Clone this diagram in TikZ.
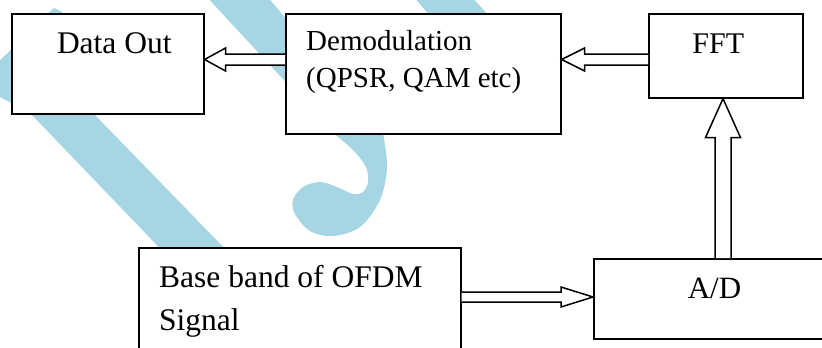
\documentclass[tikz,border=0pt]{standalone}
\usepackage{fontspec}
\setmainfont{Liberation Serif}
\usetikzlibrary{calc}
\definecolor{wmblue}{RGB}{166,213,227}
% block (hollow) arrow from #1 to #2: shaft half width #3, head half width #4, head length #5 (pt)
\newcommand\blockarr[5]{%
  \coordinate (bbase) at ($(#2)!#5pt!(#1)$);
  \filldraw[barrow] ($(#1)!#3pt!90:(#2)$) -- ($(bbase)!#3pt!90:(#2)$) -- ($(bbase)!#4pt!90:(#2)$)
     -- (#2) -- ($(bbase)!#4pt!-90:(#2)$) -- ($(bbase)!#3pt!-90:(#2)$) -- ($(#1)!#3pt!-90:(#2)$);
}
\tikzset{
  box/.style={draw=black, fill=white, line width=1.6pt, inner sep=0pt, anchor=north west},
  barrow/.style={draw=black, fill=white, line width=1.5pt, line join=miter},
  lbl/.style={inner sep=0pt, text=black},
  wm/.style={fill=wmblue}
}
\begin{document}
\begin{tikzpicture}[x=1pt,y=-1pt]
\useasboundingbox (0,0) rectangle (822,348);
\clip (0,0) rectangle (822,348);
\fill[white] (0,0) rectangle (822,348);
% watermark
\fill[wm] (54,8) -- (-10,70) -- (0,97) -- (30,113) -- (200,290) -- (265,290) -- (93,113) -- (45,65) -- (62,12) -- cycle;
\fill[wm] (205,-5) -- (266,-5) -- (383,133) -- plot[smooth, tension=0.55] coordinates {(383,133) (387,167) (380,200) (360,227) (333,236) (310,231) (295,214) (293,200) (303,187) (320,182) (337,187) (353,194) (363,192) (368,182) (366,167) (353,150) (333,133)} -- cycle;
\fill[wm] (412,-5) -- (470,-5) -- (520,50) -- (460,50) -- cycle;
% boxes
\node[box, minimum width=192pt, minimum height=100pt] (dout) at (11,13) {};
\node[box, minimum width=275pt, minimum height=120pt] (dem) at (285,13) {};
\node[box, minimum width=154pt, minimum height=84pt] (fft) at (648,13) {};
\node[box, minimum width=322pt, minimum height=130pt] (base) at (138,247) {};
\node[box, minimum width=250pt, minimum height=80pt] (ad) at (593,258) {};
% texts
\node[lbl, anchor=base, font=\fontsize{31.5}{37}\selectfont] (tdout) at ($(dout.north)+(6.5,40)$) {Data Out};
\node[lbl, anchor=base west, font=\fontsize{29}{35}\selectfont] (tdem1) at ($(dem.north west)+(21,37)$) {Demodulation};
\node[lbl, anchor=base west, font=\fontsize{29}{35}\selectfont] (tdem2) at ($(dem.north west)+(21,74)$) {(QPSR, QAM etc)};
\node[lbl, anchor=base, font=\fontsize{30}{36}\selectfont] (tfft) at ($(fft.north)+(-7.5,40)$) {FFT};
\node[lbl, anchor=base west, font=\fontsize{31.5}{37}\selectfont] (tbase1) at ($(base.north west)+(21,40)$) {Base band of OFDM};
\node[lbl, anchor=base west, font=\fontsize{31.5}{37}\selectfont] (tbase2) at ($(base.north west)+(21,83)$) {Signal};
\node[lbl, anchor=base, font=\fontsize{31}{37}\selectfont] (tad) at ($(ad.north west)+(121.5,40)$) {A/D};
% connectors
\coordinate (a1s) at (dem.west |- 0,59.5);
\coordinate (a1e) at (dout.east |- 0,59.5);
\coordinate (a2s) at (fft.west |- 0,59.5);
\coordinate (a2e) at (dem.east |- 0,59.5);
\coordinate (a3s) at (base.east |- 0,297);
\coordinate (a3e) at (ad.west |- 0,297);
\coordinate (a4s) at (ad.north -| 723,0);
\coordinate (a4e) at (fft.south -| 723,0);
\blockarr{a1s}{a1e}{5.5}{11.5}{21}
\blockarr{a2s}{a2e}{5.5}{11.5}{23}
\blockarr{a3s}{a3e}{5}{10}{32}
\blockarr{a4s}{a4e}{8}{17.5}{39}
\end{tikzpicture}
\end{document}
